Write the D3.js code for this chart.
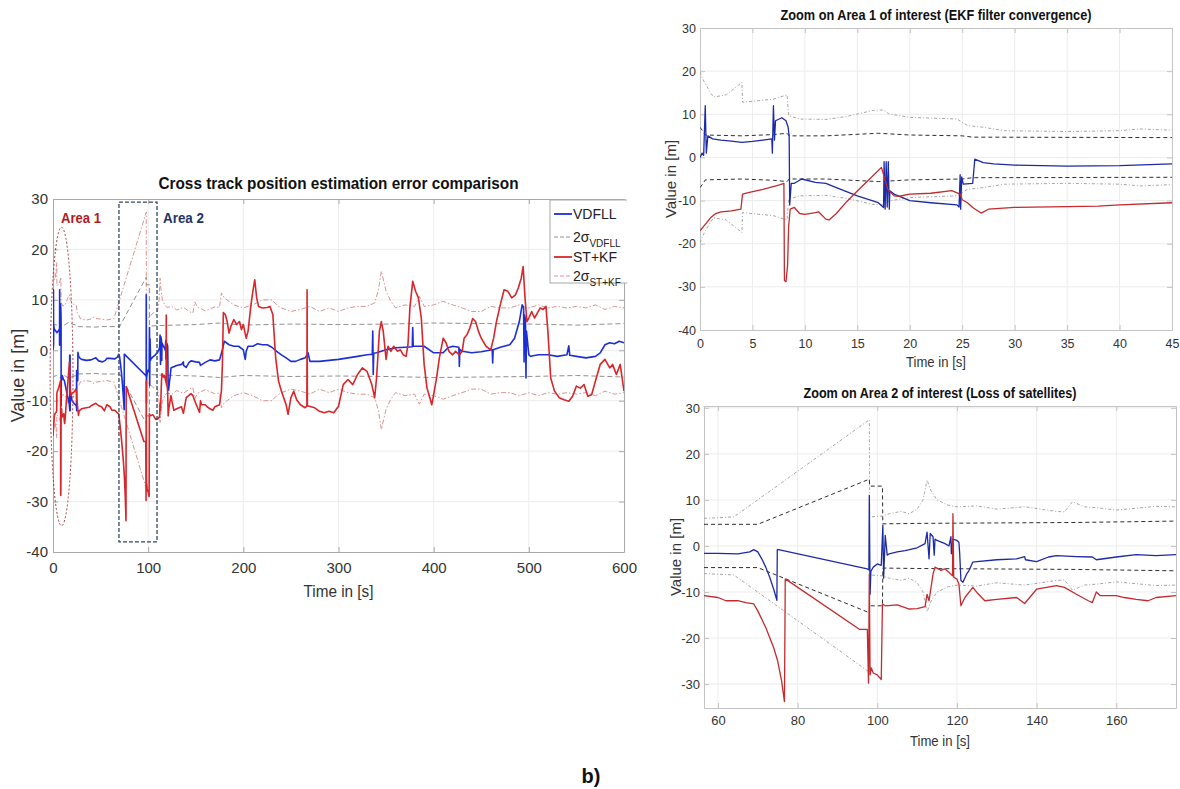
<!DOCTYPE html>
<html><head><meta charset="utf-8">
<script src="https://cdn.jsdelivr.net/npm/d3@7"></script>
<style>body{margin:0;background:#fff}svg text{font-family:"Liberation Sans",Arial,sans-serif}</style>
</head><body><svg id="c" width="1180" height="789"></svg>
<script>
// ---------------- DATA (time [s], value [m]) ----------------
// Area 1 detail (0–45 s)
const vdfllArea1 = [[0,0],[0.2,1],[0.35,0.5],[0.5,12],[0.6,1],[0.75,5],[1.2,4.3],[2,4],[3,3.8],[4,3.5],[5,3.7],[6,4],[6.85,4.3],[6.9,1],[7,12],[7.1,4],[7.2,8.5],[7.8,9.2],[8.2,8.5],[8.4,7],[8.5,5],[8.55,-11],[8.7,-6],[9,-6],[9.7,-5],[11,-5.8],[12,-6],[13,-7],[15,-8.9],[17,-10.5],[17.5,-11.6],[17.55,-1],[17.65,-12],[17.75,-1],[17.85,-11.5],[17.95,-1],[18.05,-12],[18.1,-7.7],[18.5,-8.5],[20,-10],[22,-10.5],[24.5,-11],[24.7,-11.5],[24.8,-4],[24.85,-12],[24.95,-4.5],[25.1,-6.2],[26,-6],[26.2,-0.4],[27,-1.2],[28,-1.5],[30,-1.8],[35,-2],[40,-1.9],[45,-1.5]];
const stkfArea1 = [[0,-17],[0.5,-15.5],[1,-14],[1.5,-13],[2,-12.6],[3,-12.4],[3.9,-12],[4.05,-8.5],[4.5,-8.2],[6,-7.4],[7.5,-6.4],[8,-6],[8.05,-28.5],[8.2,-28.8],[8.35,-25],[8.45,-16],[8.6,-12],[9,-11.6],[9.5,-13],[10,-13.2],[11,-12.8],[11.3,-12.6],[12,-14.3],[12.3,-14.5],[13,-13],[14,-10.2],[15,-7.8],[16,-5.4],[17.3,-2.3],[17.9,-7.4],[18.5,-8.9],[19,-9],[20,-8.5],[22,-8.3],[24,-7.7],[24.8,-8.5],[25,-9.8],[25.5,-10.5],[26,-11.6],[26.8,-12.9],[27.5,-12],[30,-11.6],[35,-11.4],[38,-11.3],[40,-11],[45,-10.5]];
const sigVdfllArea1 = [[0,7],[0.3,6],[0.5,5.2],[4,5],[7,5.3],[8.3,5.6],[8.5,5],[12,5],[17,5.6],[20,5.2],[25,5],[26,4.7],[45,4.6]];
const sigStkfArea1 = [[0,19.8],[0.3,18],[1,15],[1.3,14],[2.5,14.5],[4,17.4],[4.05,12.8],[7,13.5],[8.3,14.5],[8.45,9.7],[9.5,8.9],[12,8.8],[14,9.5],[16.5,10.9],[17.5,11],[18,10.1],[20,9.3],[24.5,8.9],[25.5,7.4],[27,7],[29,6.2],[35,6],[40,6.2],[42,6.6],[45,6.3]];

// Between the two areas (45–56.5 s), main chart only
const vdfllMid = [[48,-2.1],[52,-2.3],[55,-2]];
const stkfMid = [[48,-11],[51,-11.2],[54,-12]];
const sigVdfllMid = [[50,4.7]];
const sigStkfMid = [[50,6.2]];

// Area 2 detail (56.5–175 s)
const vdfllArea2 = [[56.5,-1.6],[60,-1.6],[65,-1.7],[68,-1.3],[69,-0.8],[70,-1.3],[71,-2.8],[72,-4.6],[73,-6.8],[74,-9.4],[74.8,-11.8],[74.9,-0.8],[75.2,-0.8],[97.5,-5],[97.9,-5.2],[98,11],[98.2,-10.5],[98.4,-5.5],[99,-4.6],[100,-3.9],[101,-4.2],[101.4,4.5],[101.6,-7],[102,2.3],[102.5,-2],[103,-1.7],[105,-1.3],[107,-1],[110,-0.4],[112,0.5],[112.5,3],[113,-2.8],[113.3,2.7],[114,2],[114.3,-2],[114.5,1.5],[115,1.2],[117,0.5],[118,0],[118.5,2],[118.6,-1.7],[119,1.5],[120,1.2],[120.5,0.8],[120.7,-1.7],[121,-7.5],[121.5,-7.9],[122.5,-6],[123,-5.4],[124,-3.5],[125,-3.4],[130,-3],[135,-2.8],[137,-2.3],[137.2,-3],[140,-3.4],[143,-2.4],[145,-2.1],[150,-2.3],[154,-2.4],[155,-3],[160,-2.4],[165,-1.9],[170,-2.1],[175,-1.9]];
const stkfArea2 = [[56.5,-10.8],[60,-11.2],[62,-11.9],[65,-11.9],[67,-12.3],[69,-12.6],[70,-14.1],[72,-17.7],[74,-22.1],[75,-25],[76,-29.4],[76.7,-33.8],[76.9,-7.2],[77,-7.2],[95.5,-18.1],[97.5,-18.1],[97.8,-29.8],[98,-6.1],[98.2,-28],[98.5,-26.5],[99,-27.6],[100,-28],[101,-29],[101.3,-12.6],[102,-13],[105,-12.8],[107,-13.4],[108,-13.7],[110,-13.6],[112,-13.2],[112.5,-10.5],[113,-11.9],[114,-6.1],[114.5,-4.6],[116,-5.3],[117,-5],[118,-5.7],[118.9,-6.5],[119,7],[119.2,-6.8],[120,-7.2],[120.5,-8.3],[121,-13],[122,-11.2],[124,-9],[125,-10.1],[127,-11.9],[130,-11.6],[135,-11.2],[137,-12.5],[140,-9.4],[145,-8.6],[147,-9],[150,-10.5],[153,-11.9],[154,-12.3],[155,-10],[156,-10.8],[160,-10.8],[162,-11.2],[165,-11.6],[168,-11.9],[170,-11.2],[175,-10.8]];
const sigVdfllArea2 = [[56.5,4.7],[70,4.7],[98,14.5],[98.1,13],[101.3,13],[101.4,4.8],[110,4.9],[130,5],[150,5.1],[175,5.4]];
const sigStkfArea2 = [[56.5,6],[64,6.3],[98,27.4],[98.1,6.3],[101.3,6.5],[103,7],[106,7.5],[108,7],[110,8],[111.5,10],[112.5,14.3],[113.5,12],[115,10],[118,8.8],[120,8.5],[125,8.7],[130,8],[137,8.5],[145,7.5],[147,7.4],[149,9.6],[152,8.5],[155,8.3],[160,7.8],[170,8.6],[175,8.5]];

// Rest of the run (175–600 s), main chart only
const vdfllLate = [[178,0.1],[180,1.8],[185,1.1],[190,0.8],[195,0.8],[200,0.1],[202,-1.8],[203,-0.2],[205,0.8],[210,0.8],[215,1.3],[220,1.1],[225,1.1],[230,0.6],[235,-0.2],[240,-0.9],[245,-1.5],[250,-2.2],[255,-2.2],[260,-1.8],[265,-1.5],[268,-0.5],[270,-2.2],[280,-2.2],[290,-2],[300,-1.8],[310,-1.5],[320,-1.2],[330,-0.9],[335.5,-0.8],[336,3.8],[336.5,-4.8],[337,-0.6],[340,-0.5],[350,0.1],[360,0.5],[370,0.6],[377.5,0.7],[378,4.5],[378.5,0.8],[380,0.8],[390,0.8],[400,-0.5],[410,-0.5],[415,0.5],[420,0.8],[426.5,0.6],[427,-3.2],[427.5,0.2],[430,-0.2],[440,-0.5],[450,-0.3],[461.5,0.1],[462,-2.5],[462.5,0.1],[470,0.6],[480,1.1],[485,2.4],[490,5.7],[493,9],[494.5,8.4],[495,-2.3],[495.5,7],[496.5,6],[497,-5.5],[497.5,3.8],[500,-0.9],[502,-1.2],[510,-0.9],[520,-0.9],[530,-1.2],[540,-0.9],[542,0.9],[543,-1],[550,-1.2],[560,-1.5],[570,-1.2],[575,-0.5],[580,1.1],[585,1.5],[590,1.3],[595,1.8],[600,1.5]];
const stkfLate = [[177,-8],[178,-2.8],[179,7.5],[181,7.1],[183,5.7],[185,3.4],[187,4.8],[190,6.1],[193,5.1],[196,5.7],[198,4.1],[200,5.1],[203,2.4],[205,3.8],[208,9],[210,11.7],[212,14],[214,10.4],[216,8.7],[220,8.4],[225,8.5],[228,8.7],[231,7.1],[234,-1.5],[237,-6.1],[240,-8.1],[245,-10.8],[247,-12.7],[250,-9.4],[253,-8.1],[256,-9.8],[260,-10.8],[265,-11.4],[266.8,-11],[267,12],[267.3,-11],[275,-11.4],[280,-12.1],[285,-12.4],[290,-12.1],[295,-12.4],[300,-11.1],[305,-6.8],[310,-5.8],[315,-6.8],[320,-4.8],[325,-3.5],[330,-4.2],[335,-6.8],[338,-9.4],[340,-5.5],[343,3.8],[345,5.7],[347,3.8],[350,-1.8],[352,0.8],[355,-0.2],[358,0.8],[362,-0.2],[365,0.1],[368,-0.9],[371,-1.2],[373,1.1],[375,8.4],[378,13.7],[381,11.7],[384,10.4],[387,6.4],[390,-2.8],[393,-7.5],[396,-9.4],[398,-10.8],[400,-8.8],[403,-5.5],[406,-1.5],[410,2.4],[413,1.5],[416,-0.2],[420,-0.9],[423,-0.2],[427,-0.9],[430,-0.2],[432,2.4],[435,3.1],[438,4.4],[441,6.3],[444,5.7],[447,3.8],[450,2.4],[455,0.8],[460,0.1],[463,2.4],[466,5.7],[470,9],[474,12],[478,11.7],[482,10.4],[486,11],[489,12.4],[492,14.3],[494,16.6],[496,10.4],[498,5.7],[500,6.4],[503,7.7],[506,6.4],[509,7.4],[512,8.4],[515,8.1],[518,8.7],[520,3.8],[523,-5.5],[527,-8.1],[532,-9.4],[537,-9.8],[542,-10.1],[546,-9.1],[550,-7.1],[554,-7.5],[558,-6.8],[562,-9.1],[566,-8.8],[570,-6.1],[575,-2.8],[580,-1.8],[585,-3.5],[588,-2.8],[592,-4.8],[596,-2.8],[600,-8.1]];
const sigVdfllLate = [[180,5.3],[200,5],[250,5.2],[300,5.1],[350,5.2],[400,5.4],[450,5.3],[500,5.2],[550,5],[600,5.3]];
const sigStkfLate = [[177,11.4],[180,10.4],[190,9],[200,8.4],[210,9],[220,10],[230,10],[235,9],[240,8.4],[250,7.7],[260,8.1],[270,8.7],[280,7.7],[290,8.4],[300,7.7],[310,8.4],[320,8.7],[330,8.7],[338,9.4],[342,12],[345,15.7],[350,11.7],[355,9.7],[360,8.4],[370,9],[380,8.7],[385,10.7],[390,8.7],[400,9],[410,9.7],[420,9],[430,8.4],[440,7.7],[450,7.7],[460,8.7],[470,8.4],[480,8.4],[490,9],[500,8.4],[510,9],[520,8.4],[530,8.7],[540,8.4],[550,8.7],[560,8.4],[570,9],[580,8.1],[590,8.7],[600,8.4]];

// Axis ticks
const mainXTicks = [0,100,200,300,400,500,600];
const mainYTicks = [-40,-30,-20,-10,0,10,20,30];
const area1XTicks = [0,5,10,15,20,25,30,35,40,45];
const area1YTicks = [-40,-30,-20,-10,0,10,20,30];
const area2XTicks = [60,80,100,120,140,160];
const area2YTicks = [-30,-20,-10,0,10,20,30];

// Annotated regions (data units)
const area1Ellipse = {t:[-3,21], v:[-34.8,24.4]};
const area2Box = {t:[69.3,109.3], v:[-38,29.4]};

// Legend
const legendLabels = ["VDFLL","2σ|VDFLL","ST+KF","2σ|ST+KF"];

// ---------------- DRAWING ----------------
const svg = d3.select("#c");
const font = '"Liberation Sans",Arial,sans-serif';
let clipId = 0;

function chart(c){
  const x = d3.scaleLinear().domain(c.xDomain).range([c.x0,c.x1]);
  const y = d3.scaleLinear().domain(c.yDomain).range([c.y1,c.y0]);
  const g = svg.append("g");
  // grid
  g.append("g").selectAll("line").data(c.xTicks.filter(d=>x(d)>c.x0+1&&x(d)<c.x1-1)).join("line")
    .attr("x1",d=>x(d)).attr("x2",d=>x(d)).attr("y1",c.y0).attr("y2",c.y1)
    .attr("stroke",c.grid).attr("stroke-width",1);
  g.append("g").selectAll("line").data(c.yTicks.filter(d=>y(d)>c.y0+1&&y(d)<c.y1-1)).join("line")
    .attr("y1",d=>y(d)).attr("y2",d=>y(d)).attr("x1",c.x0).attr("x2",c.x1)
    .attr("stroke",c.grid).attr("stroke-width",1);
  const fmt = d=>String(d);
  const styleAxis = (sel, showText)=>{
    sel.select(".domain").attr("stroke",c.frame);
    sel.selectAll(".tick line").attr("stroke",c.frame);
    sel.selectAll("text").attr("fill","#333").style("font-size",c.tickFs+"px").style("font-family",font);
    if(!showText) sel.selectAll("text").remove();
  };
  g.append("g").attr("transform",`translate(0,${c.y1})`)
    .call(d3.axisBottom(x).tickValues(c.xTicks).tickSizeInner(-5).tickSizeOuter(0).tickPadding(c.xPad).tickFormat(fmt))
    .call(s=>styleAxis(s,true));
  g.append("g").attr("transform",`translate(0,${c.y0})`)
    .call(d3.axisTop(x).tickValues(c.xTicks).tickSizeInner(-5).tickSizeOuter(0).tickFormat(""))
    .call(s=>styleAxis(s,false));
  g.append("g").attr("transform",`translate(${c.x0},0)`)
    .call(d3.axisLeft(y).tickValues(c.yTicks).tickSizeInner(-5).tickSizeOuter(0).tickPadding(c.yPad).tickFormat(fmt))
    .call(s=>styleAxis(s,true));
  g.append("g").attr("transform",`translate(${c.x1},0)`)
    .call(d3.axisRight(y).tickValues(c.yTicks).tickSizeInner(-5).tickSizeOuter(0).tickFormat(""))
    .call(s=>styleAxis(s,false));
  // clip
  const id = "clip"+(clipId++);
  g.append("clipPath").attr("id",id).append("rect")
    .attr("x",c.x0).attr("y",c.y0).attr("width",c.x1-c.x0).attr("height",c.y1-c.y0);
  const lines = g.append("g").attr("clip-path",`url(#${id})`);
  const line = d3.line().x(d=>x(d[0])).y(d=>y(d[1]));
  const neg = arr=>arr.map(d=>[d[0],-d[1]]);
  // sigma bounds (drawn as +/-)
  [c.sigS, neg(c.sigS)].forEach(arr=>lines.append("path").attr("d",line(arr)).attr("fill","none")
    .attr("stroke",c.sigSColor).attr("stroke-width",1).attr("stroke-dasharray",c.sigSDash));
  [c.sigV, neg(c.sigV)].forEach(arr=>lines.append("path").attr("d",line(arr)).attr("fill","none")
    .attr("stroke",c.sigVColor).attr("stroke-width",1).attr("stroke-dasharray",c.sigVDash));
  lines.append("path").attr("d",line(c.vdfll)).attr("fill","none").attr("stroke",c.blue).attr("stroke-width",c.lw).attr("stroke-linejoin","round");
  lines.append("path").attr("d",line(c.stkf)).attr("fill","none").attr("stroke",c.red).attr("stroke-width",c.lw).attr("stroke-linejoin","round");
  // titles / labels
  const cx = (c.x0+c.x1)/2;
  g.append("text").attr("x",cx).attr("y",c.titleY).attr("text-anchor","middle")
    .attr("font-weight","bold").style("font-size",c.titleFs+"px").attr("fill","#111")
    .attr("textLength",c.titleLen).attr("lengthAdjust","spacingAndGlyphs").text(c.title);
  g.append("text").attr("x",cx).attr("y",c.xLabelY).attr("text-anchor","middle")
    .style("font-size",c.labelFs+"px").attr("fill","#333")
    .attr("textLength",c.xLabelLen).attr("lengthAdjust","spacingAndGlyphs").text("Time in [s]");
  g.append("text").attr("transform",`translate(${c.yLabelX},${(c.y0+c.y1)/2+c.yLabelDy}) rotate(-90)`)
    .attr("text-anchor","middle").style("font-size",c.yLabelFs+"px").attr("fill","#333")
    .text("Value in [m]");
  return {x,y,g};
}

// Main chart
const main = chart({
  x0:53,x1:624,y0:199,y1:552,xDomain:[0,600],yDomain:[-40,30],xTicks:mainXTicks,yTicks:mainYTicks,
  grid:"#ececec",frame:"#a8a8a8",tickFs:15,xPad:10,yPad:5,
  vdfll:vdfllArea1.concat(vdfllMid,vdfllArea2,vdfllLate),
  stkf:stkfArea1.concat(stkfMid,stkfArea2,stkfLate),
  sigV:sigVdfllArea1.concat(sigVdfllMid,sigVdfllArea2,sigVdfllLate),
  sigS:sigStkfArea1.concat(sigStkfMid,sigStkfArea2,sigStkfLate),
  blue:"#1c2fd6",red:"#d8262a",lw:1.6,
  sigVColor:"#8f8f8f",sigVDash:"5,3",sigSColor:"#d99494",sigSDash:"5,2,1.5,2",
  title:"Cross track position estimation error comparison",titleY:189,titleFs:17,titleLen:360,
  xLabelY:597,labelFs:16,xLabelLen:70,yLabelX:24,yLabelDy:0,yLabelFs:18
});

// Annotations on main chart
{
  const {x,y,g} = main;
  g.append("ellipse").attr("cx",x(d3.mean(area1Ellipse.t))).attr("cy",y(d3.mean(area1Ellipse.v)))
    .attr("rx",(x(area1Ellipse.t[1])-x(area1Ellipse.t[0]))/2).attr("ry",(y(area1Ellipse.v[0])-y(area1Ellipse.v[1]))/2)
    .attr("fill","none").attr("stroke","#a83a3a").attr("stroke-width",1).attr("stroke-dasharray","2,2");
  g.append("rect").attr("x",x(area2Box.t[0])).attr("y",y(area2Box.v[1]))
    .attr("width",x(area2Box.t[1])-x(area2Box.t[0])).attr("height",y(area2Box.v[0])-y(area2Box.v[1]))
    .attr("fill","none").attr("stroke","#34485e").attr("stroke-width",1.3).attr("stroke-dasharray","4,2");
  g.append("text").attr("x",61).attr("y",223).attr("font-weight","bold").style("font-size","15px")
    .attr("fill","#b01c22").attr("textLength",40).attr("lengthAdjust","spacingAndGlyphs").text("Area 1");
  g.append("text").attr("x",163).attr("y",223).attr("font-weight","bold").style("font-size","15px")
    .attr("fill","#1f3466").attr("textLength",41).attr("lengthAdjust","spacingAndGlyphs").text("Area 2");

  // legend (clipped like the reference crop)
  g.append("clipPath").attr("id","legclip").append("rect").attr("x",0).attr("y",0).attr("width",627).attr("height",789);
  const lg = g.append("g").attr("clip-path","url(#legclip)");
  lg.append("rect").attr("x",550).attr("y",200).attr("width",90).attr("height",83).attr("fill","#fff").attr("stroke","#a8a8a8");
  const ly = [214,237,257,276];
  const lstyle = [["#1c2fd6",1.8,null],["#8f8f8f",1,"4,2"],["#d8262a",1.8,null],["#d99494",1,"4,2"]];
  legendLabels.forEach((lab,i)=>{
    lg.append("line").attr("x1",554).attr("x2",572).attr("y1",ly[i]).attr("y2",ly[i])
      .attr("stroke",lstyle[i][0]).attr("stroke-width",lstyle[i][1]).attr("stroke-dasharray",lstyle[i][2]);
    const [a,b] = lab.split("|");
    const t = lg.append("text").attr("x",573).attr("y",ly[i]+5).style("font-size","14px").attr("fill","#222");
    t.append("tspan").text(a);
    if(b) t.append("tspan").attr("dy",5).style("font-size","10px").text(b);
  });
}

// Area 1 zoom
chart({
  x0:700,x1:1172,y0:28,y1:330,xDomain:[0,45],yDomain:[-40,30],xTicks:area1XTicks,yTicks:area1YTicks,
  grid:"#ececec",frame:"#c4c4c4",tickFs:12.5,xPad:9,yPad:4,
  vdfll:vdfllArea1,stkf:stkfArea1,sigV:sigVdfllArea1,sigS:sigStkfArea1,
  blue:"#1d2aa6",red:"#c42a2e",lw:1.3,
  sigVColor:"#2e2e2e",sigVDash:"4,3",sigSColor:"#a6a6a6",sigSDash:"3,2,1,2",
  title:"Zoom on Area 1 of interest (EKF filter convergence)",titleY:20,titleFs:14,titleLen:311,
  xLabelY:367,labelFs:14,xLabelLen:60,yLabelX:676,yLabelDy:0,yLabelFs:15
});

// Area 2 zoom
chart({
  x0:704,x1:1176,y0:406,y1:708,xDomain:[56.5,175],yDomain:[-35.2,30.4],xTicks:area2XTicks,yTicks:area2YTicks,
  grid:"#ececec",frame:"#c4c4c4",tickFs:13,xPad:8,yPad:4,
  vdfll:vdfllArea2,stkf:stkfArea2,sigV:sigVdfllArea2,sigS:sigStkfArea2,
  blue:"#1d2aa6",red:"#c42a2e",lw:1.3,
  sigVColor:"#2e2e2e",sigVDash:"4,3",sigSColor:"#a6a6a6",sigSDash:"3,2,1,2",
  title:"Zoom on Area 2 of interest (Loss of satellites)",titleY:398,titleFs:14,titleLen:273,
  xLabelY:746,labelFs:14,xLabelLen:60,yLabelX:681,yLabelDy:0,yLabelFs:15
});

svg.append("text").attr("x",591).attr("y",783).attr("text-anchor","middle").attr("font-weight","bold")
  .style("font-size","20px").attr("fill","#111").text("b)");
</script></body></html>
